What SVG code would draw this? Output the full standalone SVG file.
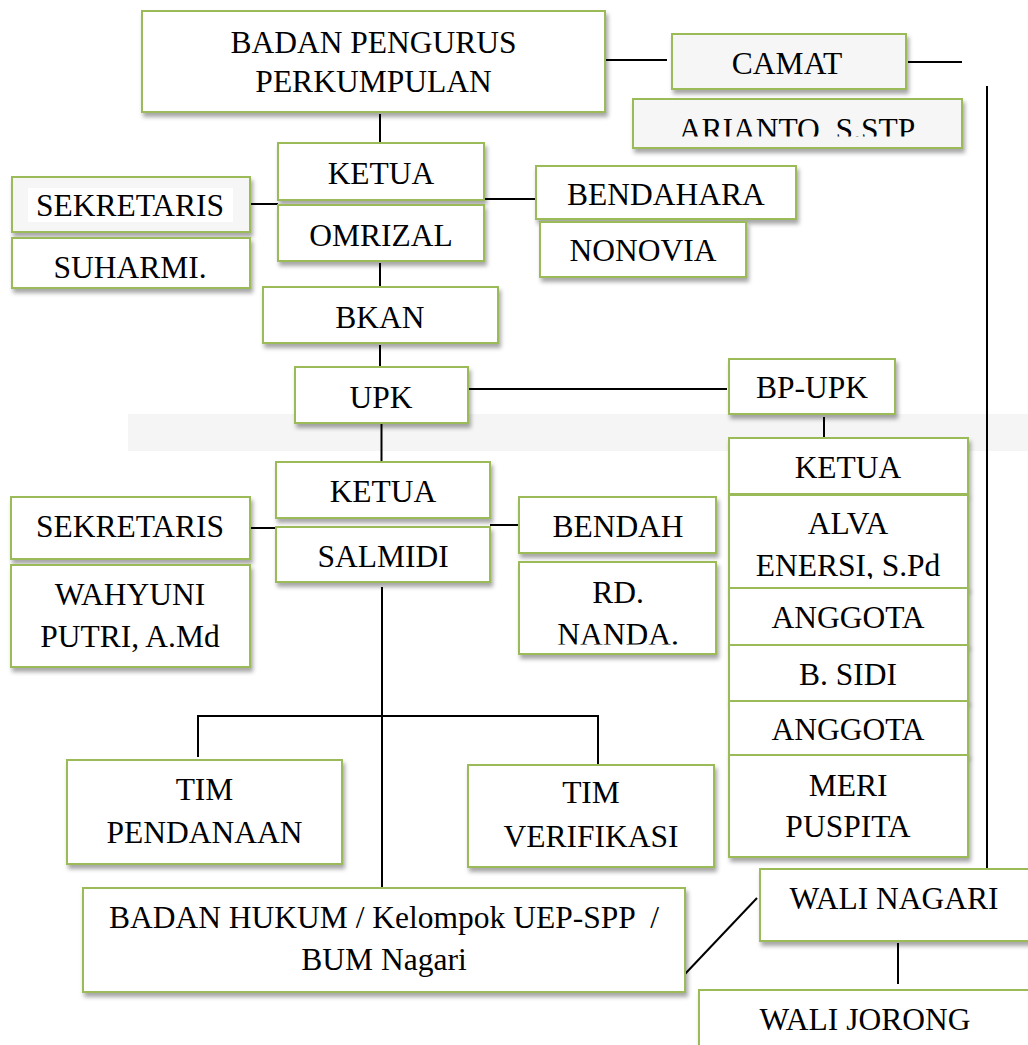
<svg xmlns="http://www.w3.org/2000/svg" width="1028" height="1045" viewBox="0 0 1028 1045">
<style>
.box{fill:#ffffff;stroke:#9bbb59;stroke-width:2;filter:url(#sh)}
.grey{fill:#f6f6f6}
.ln{stroke:#000;stroke-width:2;fill:none}
text{font-family:"Liberation Serif","Times New Roman",serif;font-size:31.5px;fill:#000;text-anchor:middle}
</style>
<defs>
<filter id="sh" x="-10%" y="-20%" width="130%" height="150%">
<feDropShadow dx="2" dy="4" stdDeviation="2" flood-color="#000" flood-opacity="0.35"/>
</filter>
<clipPath id="cArianto"><rect x="633" y="99" width="329" height="37.5"/></clipPath>
<clipPath id="cAlva"><rect x="729" y="495" width="239" height="84"/></clipPath>
<clipPath id="cNanda"><rect x="519" y="562" width="197" height="82.5"/></clipPath>
</defs>
<rect x="128" y="414" width="900" height="37" fill="#f5f5f5"/>
<g id="connectors">
<path class="ln" d="M605,60 H667"/>
<path class="ln" d="M908,62 H962"/>
<path class="ln" d="M987,86 V869"/>
<path class="ln" d="M380,114 V143"/>
<path class="ln" d="M250,204 H278"/>
<path class="ln" d="M484,199 H536"/>
<path class="ln" d="M380,263 V287"/>
<path class="ln" d="M380,345 V367"/>
<path class="ln" d="M468,389 H727"/>
<path class="ln" d="M824,417 V438"/>
<path class="ln" d="M381.5,421 V462"/>
<path class="ln" d="M250,528 H276"/>
<path class="ln" d="M490,525 H519"/>
<path class="ln" d="M382,587 V888"/>
<path class="ln" d="M198,757 V716 H598 V767"/>
<path class="ln" d="M685,974 L757,898"/>
<path class="ln" d="M898,943 V984"/>
</g>
<g id="n_bpp"><rect class="box" x="142" y="11" width="463" height="101"/><text x="373.5" y="53">BADAN PENGURUS</text><text x="373.5" y="92">PERKUMPULAN</text></g>
<g id="n_camat"><rect class="box grey" x="672" y="34" width="234" height="55"/><text x="787" y="74">CAMAT</text></g>
<g id="n_arianto"><rect class="box grey" x="633" y="99" width="329" height="49"/><text x="797" y="140" clip-path="url(#cArianto)">ARIANTO, S.STP</text></g>
<g id="n_ketua1"><rect class="box" x="278" y="143" width="206" height="57"/><text x="381" y="184">KETUA</text></g>
<g id="n_omrizal"><rect class="box" x="278" y="205" width="206" height="56"/><text x="381" y="246">OMRIZAL</text></g>
<g id="n_sek1"><rect class="box grey" x="12" y="177" width="238" height="55"/><rect x="28" y="188" width="205" height="34" fill="#fff"/><text x="130" y="216">SEKRETARIS</text></g>
<g id="n_suharmi"><rect class="box" x="12" y="238" width="238" height="50"/><text x="130" y="277.5">SUHARMI.</text></g>
<g id="n_bendahara"><rect class="box" x="536" y="166" width="260" height="53"/><text x="666" y="205">BENDAHARA</text></g>
<g id="n_nonovia"><rect class="box" x="540" y="222" width="206" height="55"/><text x="643" y="261">NONOVIA</text></g>
<g id="n_bkan"><rect class="box" x="263" y="287" width="235" height="56"/><text x="380" y="328">BKAN</text></g>
<g id="n_upk"><rect class="box" x="295" y="367" width="173" height="56"/><text x="381" y="408">UPK</text></g>
<g id="n_bpupk"><rect class="box" x="729" y="359" width="166" height="55"/><text x="812" y="398">BP-UPK</text></g>
<g id="n_ketua3"><rect class="box" x="729" y="438" width="239" height="56"/><text x="848" y="478">KETUA</text></g>
<g id="n_alva"><rect class="box" x="729" y="495" width="239" height="93"/><text x="848" y="534">ALVA</text><text x="848" y="576" clip-path="url(#cAlva)">ENERSI, S.Pd</text></g>
<g id="n_anggota1"><rect class="box" x="729" y="588" width="239" height="57"/><text x="848" y="628">ANGGOTA</text></g>
<g id="n_bsidi"><rect class="box" x="729" y="645" width="239" height="56"/><text x="848" y="685">B. SIDI</text></g>
<g id="n_anggota2"><rect class="box" x="729" y="701" width="239" height="54"/><text x="848" y="740">ANGGOTA</text></g>
<g id="n_meri"><rect class="box" x="729" y="755" width="239" height="102"/><text x="848" y="796">MERI</text><text x="848" y="837">PUSPITA</text></g>
<g id="n_ketua2"><rect class="box" x="276" y="462" width="214" height="56"/><text x="383" y="502">KETUA</text></g>
<g id="n_salmidi"><rect class="box" x="276" y="527" width="214" height="55"/><text x="383" y="567">SALMIDI</text></g>
<g id="n_sek2"><rect class="box" x="11" y="497" width="239" height="62"/><text x="130" y="537">SEKRETARIS</text></g>
<g id="n_wahyuni"><rect class="box" x="11" y="565" width="239" height="102"/><text x="130" y="605">WAHYUNI</text><text x="130" y="647">PUTRI, A.Md</text></g>
<g id="n_bendah"><rect class="box" x="519" y="497" width="197" height="56"/><text x="618" y="537">BENDAH</text></g>
<g id="n_rdnanda"><rect class="box" x="519" y="562" width="197" height="92"/><text x="618" y="603">RD.</text><text x="618" y="645" clip-path="url(#cNanda)">NANDA.</text></g>
<g id="n_timp"><rect class="box" x="67" y="760" width="275" height="104"/><text x="204.5" y="800">TIM</text><text x="204.5" y="843">PENDANAAN</text></g>
<g id="n_timv"><rect class="box" x="468" y="765" width="246" height="102"/><text x="591" y="803">TIM</text><text x="591" y="847">VERIFIKASI</text></g>
<g id="n_badanhukum"><rect class="box" x="83" y="888" width="602" height="104"/><text x="384" y="928" style="white-space:pre">BADAN HUKUM / Kelompok UEP-SPP  /</text><text x="384" y="970">BUM Nagari</text></g>
<g id="n_walinagari"><rect class="box" x="760" y="869" width="272" height="72"/><text x="894" y="909">WALI NAGARI</text></g>
<g id="n_walijorong"><rect class="box" x="699" y="990" width="340" height="80"/><text x="865" y="1030">WALI JORONG</text></g>
</svg>
